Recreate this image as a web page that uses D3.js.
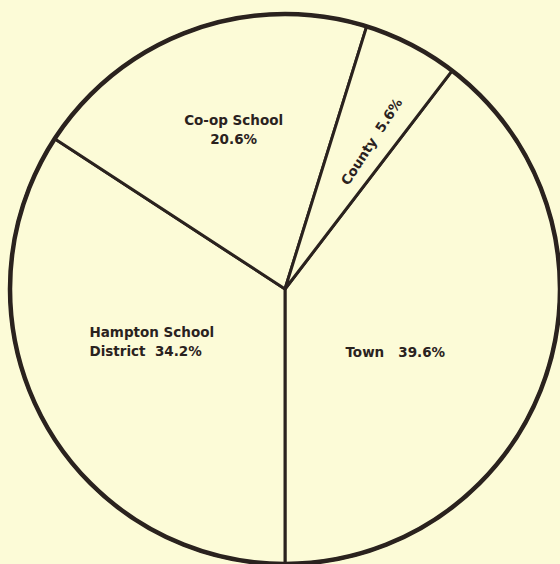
<!DOCTYPE html>
<html>
<head>
<meta charset="utf-8">
<script src="https://cdn.jsdelivr.net/npm/d3@7"></script>
<style>
  html, body { margin: 0; padding: 0; background: #fcfbd7; }
  svg { display: block; }
  text { font-family: "DejaVu Sans", sans-serif; font-weight: bold; fill: #2a221e; white-space: pre; }
</style>
</head>
<body>
<div class="chart"></div>
<script>
const width = 560
const height = 564

// slices in clockwise order, Town ends at the bottom
const categories = ['Town', 'Hampton School District', 'Co-op School', 'County']
const shares = [39.6, 34.2, 20.6, 5.6]
const labelLines = [
    ['Town   39.6%'],
    ['Hampton School', 'District  34.2%'],
    ['Co-op School', '20.6%'],
    ['County  5.6%']
]

const cx = 285, cy = 289, radius = 275

// where each label sits: radius and small angle shift from the slice middle
const labelPos = [
    {r: 127, shift: 11, anchor: 'middle', rotate: 0},
    {r: 150, shift: 8, anchor: 'start', dx: -55, rotate: 0},
    {r: 168, shift: 2, anchor: 'middle', rotate: 0},
    {r: 171, shift: 3, anchor: 'middle', rotate: -57}
]

const svg = d3.select('.chart')
    .append('svg')
        .attr('width', width)
        .attr('height', height)

const g = svg.append('g')
    .attr('transform', `translate(${cx},${cy})`)

const townFrac = shares[0] / d3.sum(shares)
const start = Math.PI - townFrac * 2 * Math.PI

const pie = d3.pie()
    .sort(null)
    .value(d => d)
    .startAngle(start)
    .endAngle(start + 2 * Math.PI)

const arcs = pie(shares)

const arcGen = d3.arc()
    .innerRadius(0)
    .outerRadius(radius)

g.selectAll('path.slice')
    .data(arcs)
    .join('path')
        .attr('class', 'slice')
        .attr('d', arcGen)
        .attr('fill', '#fcfbd7')
        .attr('stroke', '#2a221e')
        .attr('stroke-width', 3)
        .attr('stroke-linejoin', 'round')

// heavier outer rim
g.append('circle')
    .attr('r', radius)
    .attr('fill', 'none')
    .attr('stroke', '#2a221e')
    .attr('stroke-width', 4.5)

const labels = g.selectAll('g.label')
    .data(arcs)
    .join('g')
        .attr('class', 'label')
        .attr('transform', (d, i) => {
            const p = labelPos[i]
            const a = (d.startAngle + d.endAngle) / 2 + p.shift * Math.PI / 180
            const x = p.r * Math.sin(a) + (p.dx || 0)
            const y = -p.r * Math.cos(a)
            return `translate(${x},${y}) rotate(${p.rotate})`
        })

labels.each(function(d, i) {
    const lines = labelLines[i]
    const t = d3.select(this).append('text')
        .attr('text-anchor', labelPos[i].anchor)
        .attr('font-size', 13.5)
    lines.forEach((line, k) => {
        t.append('tspan')
            .attr('x', 0)
            .attr('y', (k - (lines.length - 1) / 2) * 19 + 5)
            .text(line)
    })
})
</script>
</body>
</html>
